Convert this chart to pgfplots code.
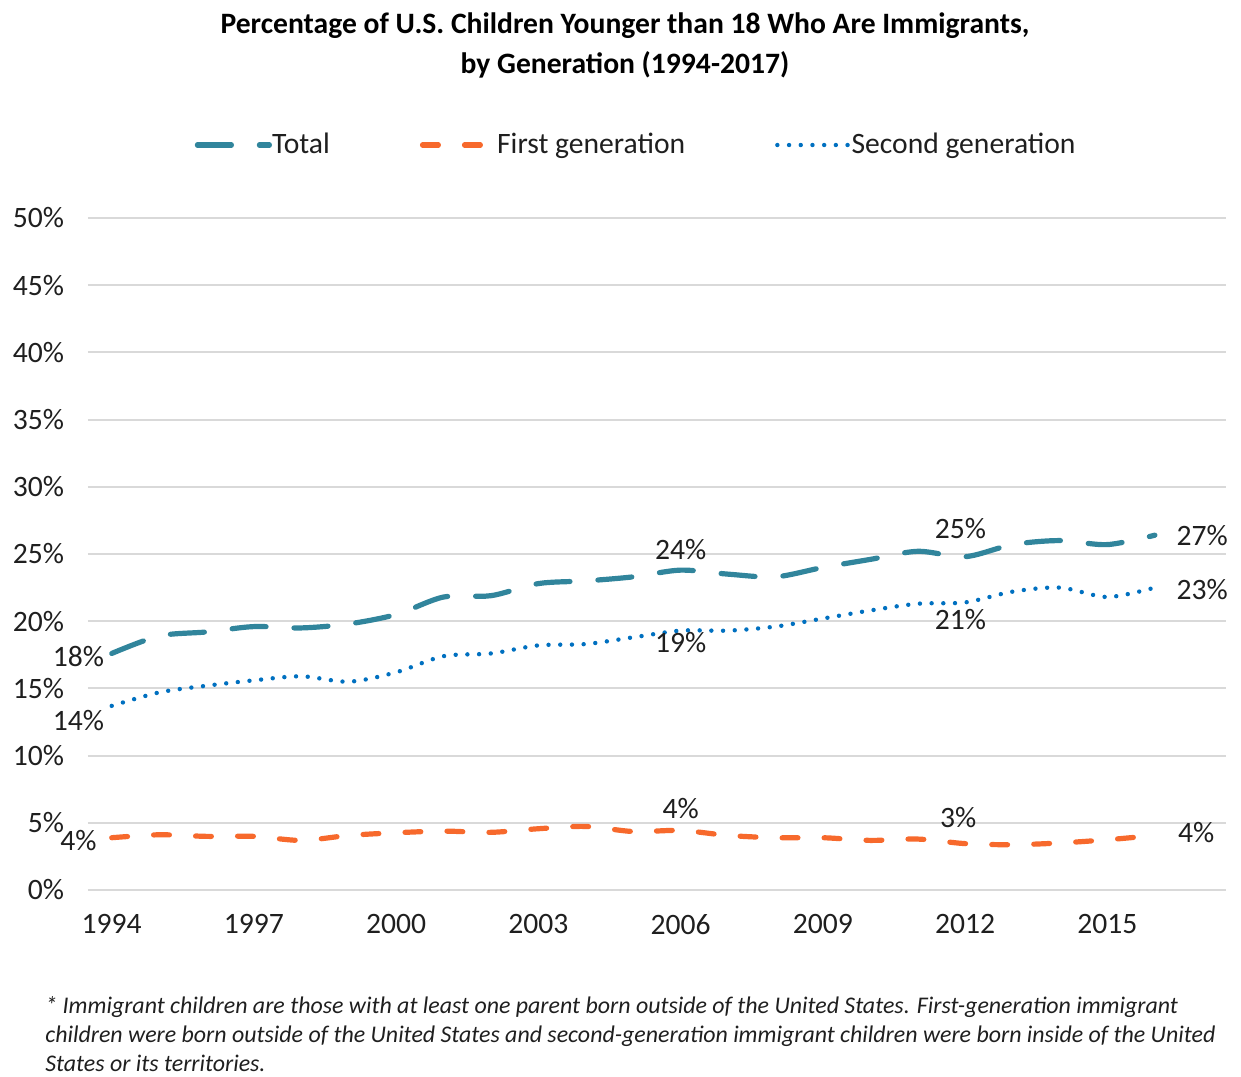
\documentclass[border=0pt]{standalone}
\usepackage{fontspec}
\setmainfont{Carlito}
\usepackage{pgfplots}
\pgfplotsset{compat=1.18}
\definecolor{cTotal}{HTML}{31859C}
\definecolor{cFirst}{HTML}{F7692C}
\definecolor{cSecond}{HTML}{0070C0}
\definecolor{gridc}{HTML}{D9D9D9}
\definecolor{txt}{HTML}{1F1F1F}

\pgfplotstableread{
year total first second
1994 17.6 3.89 13.7
1995 18.9 4.11 14.7
1996 19.2 3.99 15.2
1997 19.6 3.99 15.6
1998 19.5 3.69 15.9
1999 19.8 4.06 15.5
2000 20.5 4.26 16.2
2001 21.8 4.38 17.4
2002 21.9 4.29 17.6
2003 22.8 4.56 18.2
2004 23.0 4.73 18.3
2005 23.3 4.35 18.8
2006 23.8 4.43 19.3
2007 23.5 4.06 19.3
2008 23.3 3.89 19.6
2009 24.0 3.89 20.2
2010 24.6 3.69 20.8
2011 25.2 3.79 21.3
2012 24.8 3.45 21.4
2013 25.7 3.37 22.2
2014 26.0 3.50 22.5
2015 25.7 3.74 21.8
2016 26.4 4.06 22.5
}\datatable

\begin{document}
\begin{tikzpicture}
\useasboundingbox (-44pt,-93pt) rectangle (576.5pt,445pt);
\begin{axis}[
  at={(0,0)}, anchor=south west,
  scale only axis, width=569pt, height=336pt,
  xmin=1993.5, xmax=2017.5, ymin=0, ymax=50,
  clip=false,
  axis line style={draw=none},
  tick style={draw=none},
  major tick length=0pt,
  ymajorgrids, grid style={gridc, line width=1pt},
  ytick={0,5,...,50},
  yticklabels={0\%,5\%,10\%,15\%,20\%,25\%,30\%,35\%,40\%,45\%,50\%},
  xtick={1994,1997,2000,2003,2006,2009,2012,2015},
  xticklabels={1994,1997,2000,2003,2006,2009,2012,2015},
  ticklabel style={font=\fontsize{14.8}{17}\selectfont, text=txt},
  yticklabel shift=8.5pt,
  xticklabel shift=8.5pt,
  legend image code/.code={\draw[#1] (0pt,0pt) -- (36pt,0pt);},
  legend style={draw=none, fill=none, at={(0.0935,1.1086)}, anchor=west,
    font=\fontsize{14.8}{17}\selectfont, text=txt, inner sep=0pt,
    /tikz/every odd column/.append style={column sep=-2pt},
    /tikz/every even column/.append style={column sep=43pt}},
  legend columns=3,
  legend cell align=left,
]
\addplot[cTotal, line width=2.6pt, line cap=round, dash pattern=on 17pt off 14pt, smooth] table[x=year, y=total] {\datatable};
\addlegendentry{Total}
\addplot[cFirst, line width=2.6pt, line cap=round, dash pattern=on 7.9pt off 13.1pt, smooth] table[x=year, y=first] {\datatable};
\addlegendentry{First generation}
\addplot[cSecond, line width=2.2pt, line cap=round, dash pattern=on 0pt off 5.85pt, smooth] table[x=year, y=second] {\datatable};
\addlegendentry{Second generation}

\begin{scope}[every node/.style={font=\fontsize{14.8}{17}\selectfont, text=txt, inner sep=0pt}]
\node at (axis cs:1993.3,17.4) {18\%};
\node at (axis cs:1993.3,12.6) {14\%};
\node at (axis cs:1993.3,3.7) {4\%};
\node at (axis cs:2006,25.37) {24\%};
\node at (axis cs:2006,18.38) {19\%};
\node at (axis cs:2006,6.03) {4\%};
\node at (axis cs:2011.9,26.86) {25\%};
\node at (axis cs:2011.9,20.09) {21\%};
\node at (axis cs:2011.85,5.36) {3\%};
\node at (axis cs:2017.0,26.41) {27\%};
\node at (axis cs:2017.0,22.32) {23\%};
\node at (axis cs:2016.87,4.24) {4\%};
\end{scope}
\end{axis}

\node[font=\fontsize{14.8}{20}\selectfont\bfseries, align=center, inner sep=0pt] at (268.5pt,422.5pt)
  {Percentage of U.S. Children Younger than 18 Who Are Immigrants,\\by Generation (1994-2017)};

\begin{scope}[every node/.style={font=\fontsize{11.95}{14.5}\selectfont\itshape, text=txt, inner sep=0pt, anchor=base west}]
\node at (-21.5pt,-61.5pt) {* Immigrant children are those with at least one parent born outside of the United States. First-generation immigrant};
\node at (-21.5pt,-76pt) {children were born outside of the United States and second-generation immigrant children were born inside of the United};
\node at (-21.5pt,-90.5pt) {States or its territories.};
\end{scope}
\end{tikzpicture}
\end{document}
